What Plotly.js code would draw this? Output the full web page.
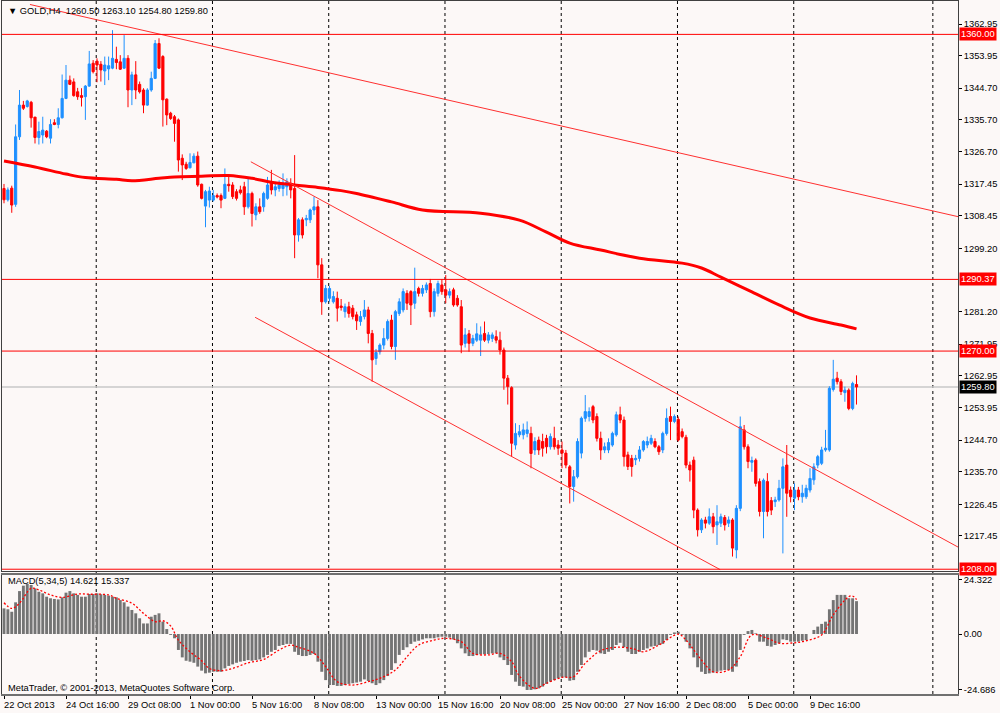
<!DOCTYPE html>
<html><head><meta charset="utf-8">
<script src="https://cdn.plot.ly/plotly-3.0.1.min.js"></script>
<style>html,body{margin:0;padding:0;background:#fcf8f7;}#chart{width:1000px;height:713px;}</style>
</head><body><div id="chart"></div>
<script>
// ---- price data (GOLD, H4), bar 0 = 22 Oct 2013 00:00 ----
const openP = [1316.2,1313.0,1316.3,1311.7,1330.9,1339.9,1339.5,1340.7,1336.5,1330.7,1331.4,1332.5,1330.5,1334.9,1334.4,1336.3,1341.8,1347.0,1346.5,1343.7,
1342.6,1342.3,1345.3,1351.8,1352.4,1351.5,1349.6,1350.2,1350.4,1352.9,1352.2,1350.4,1353.2,1344.2,1348.5,1345.8,1344.2,1339.9,1344.2,1347.5,
1357.4,1353.7,1341.6,1337.6,1336.6,1335.7,1324.8,1323.1,1322.1,1323.5,1325.4,1317.4,1311.2,1312.9,1312.9,1314.2,1314.2,1313.4,1317.4,1317.2,
1315.3,1315.8,1316.7,1311.0,1314.8,1308.7,1311.0,1311.0,1313.4,1318.1,1315.8,1316.2,1316.2,1316.7,1317.7,1316.2,1303.0,1307.3,1307.3,1307.3,
1310.1,1311.0,1294.5,1284.0,1285.0,1284.0,1285.0,1282.8,1281.2,1282.6,1282.2,1280.3,1278.4,1279.8,1281.7,1275.0,1267.9,1269.8,1271.7,1273.6,
1278.8,1271.3,1280.7,1281.7,1286.4,1286.9,1283.6,1287.8,1286.4,1287.4,1289.2,1281.2,1286.4,1288.8,1287.4,1285.9,1287.4,1285.0,1282.6,1272.2,
1274.9,1272.2,1273.1,1273.1,1275.0,1273.1,1273.6,1274.1,1273.1,1270.3,1262.3,1259.6,1243.3,1246.2,1246.2,1246.6,1246.6,1241.9,1244.7,1244.3,
1245.2,1242.8,1245.2,1243.3,1241.9,1241.0,1237.1,1231.5,1234.3,1241.0,1250.9,1251.4,1254.2,1251.4,1245.2,1241.9,1241.9,1243.3,1246.2,1251.9,
1250.4,1240.5,1239.5,1239.1,1239.5,1241.9,1243.3,1243.8,1244.3,1242.8,1241.9,1246.6,1251.4,1250.0,1250.6,1247.1,1245.5,1237.6,1239.0,1224.8,
1219.2,1222.0,1221.1,1222.9,1220.6,1221.1,1222.7,1221.1,1222.0,1213.5,1225.3,1247.6,1242.8,1238.4,1239.0,1232.9,1224.4,1232.9,1227.5,1227.2,
1227.7,1231.0,1237.6,1230.5,1228.2,1230.5,1228.6,1228.6,1230.5,1233.4,1237.6,1238.1,1241.9,1241.9,1259.1,1262.3,1261.3,1258.2,1258.9,1253.7,1260.5];
const highP = [1317.5,1316.5,1317.0,1334.4,1344.2,1341.1,1341.4,1341.1,1336.5,1335.2,1336.6,1332.8,1335.9,1335.9,1339.0,1348.6,1351.3,1348.3,1347.5,1344.8,
1344.7,1345.6,1355.3,1352.7,1353.2,1352.4,1353.7,1353.7,1361.2,1356.5,1354.1,1359.8,1354.1,1349.4,1352.4,1346.6,1344.7,1344.7,1349.4,1358.4,
1358.9,1354.1,1341.8,1338.0,1337.1,1336.1,1325.9,1323.8,1326.2,1326.2,1326.7,1317.6,1315.8,1316.7,1315.8,1314.8,1314.8,1321.9,1320.0,1318.0,
1316.0,1317.0,1318.1,1319.1,1315.3,1312.0,1313.4,1315.3,1319.5,1321.5,1318.1,1318.5,1320.5,1319.1,1319.1,1325.7,1307.8,1308.0,1308.7,1310.5,
1313.9,1312.9,1296.4,1288.8,1288.5,1287.0,1286.9,1284.8,1283.5,1284.0,1283.1,1281.2,1281.4,1284.5,1282.6,1276.0,1270.6,1272.2,1276.5,1279.0,
1280.3,1281.7,1285.0,1287.8,1287.3,1287.3,1293.7,1288.3,1288.8,1289.5,1290.5,1287.8,1290.0,1290.4,1291.6,1287.8,1288.0,1285.9,1284.5,1276.5,
1276.0,1274.6,1277.9,1277.0,1278.4,1275.4,1275.3,1275.9,1275.5,1271.0,1263.2,1260.0,1249.5,1249.0,1249.4,1250.0,1248.5,1245.5,1245.7,1246.5,
1246.2,1246.6,1248.5,1244.7,1244.3,1241.9,1237.6,1236.2,1245.2,1251.4,1257.5,1254.0,1254.7,1252.3,1247.1,1244.0,1245.2,1247.1,1252.8,1254.2,
1251.4,1241.4,1240.5,1240.5,1243.0,1244.7,1245.7,1246.2,1245.2,1243.3,1247.1,1253.7,1254.2,1252.0,1251.4,1248.0,1246.2,1238.6,1240.0,1225.3,
1222.5,1222.9,1225.3,1224.0,1226.2,1223.8,1223.4,1223.0,1222.5,1226.2,1251.4,1249.0,1243.5,1240.0,1239.5,1233.8,1233.8,1235.3,1228.5,1228.6,
1233.4,1239.5,1243.3,1231.5,1232.4,1231.4,1232.0,1232.0,1236.7,1238.1,1240.5,1242.8,1247.6,1260.0,1267.5,1264.1,1262.0,1259.9,1259.4,1261.3,1263.1];
const lowP = [1312.0,1312.5,1309.3,1311.0,1330.0,1338.5,1339.2,1333.5,1329.0,1328.7,1329.0,1330.5,1329.0,1334.2,1333.3,1336.1,1341.6,1345.6,1342.3,1341.4,
1339.5,1335.7,1345.1,1348.9,1346.4,1346.6,1345.6,1347.0,1350.1,1350.1,1349.9,1350.2,1339.3,1339.9,1341.6,1343.2,1337.6,1339.7,1343.7,1347.3,
1350.2,1333.8,1334.2,1335.7,1329.5,1321.0,1318.6,1321.5,1321.9,1323.4,1316.7,1313.1,1305.2,1310.8,1312.5,1313.4,1310.6,1313.2,1315.3,1313.2,
1312.8,1314.5,1308.7,1310.5,1305.4,1307.2,1309.0,1309.6,1313.0,1314.5,1314.0,1315.3,1314.0,1314.2,1313.4,1296.4,1301.1,1302.0,1305.5,1306.4,
1308.7,1290.7,1280.3,1283.5,1284.0,1283.5,1278.4,1281.5,1279.5,1279.5,1279.0,1276.0,1277.2,1279.0,1272.2,1261.3,1266.1,1269.0,1270.5,1273.0,
1270.5,1267.5,1280.0,1281.0,1281.7,1277.4,1282.0,1285.5,1285.5,1286.5,1279.6,1279.8,1285.5,1286.0,1283.6,1285.0,1282.6,1282.6,1269.4,1271.0,
1269.8,1271.4,1272.6,1268.6,1272.6,1272.2,1272.6,1272.2,1269.0,1259.0,1254.8,1240.0,1242.0,1245.5,1244.9,1245.5,1236.7,1240.5,1240.5,1240.0,
1240.9,1242.0,1242.0,1240.5,1236.7,1236.7,1226.7,1227.2,1233.8,1239.5,1249.9,1250.0,1249.5,1244.3,1239.1,1241.0,1241.0,1242.8,1245.7,1249.5,
1237.2,1236.2,1234.3,1237.6,1238.6,1241.4,1242.4,1243.3,1242.4,1240.5,1241.0,1246.0,1244.7,1249.5,1244.3,1245.2,1236.7,1232.9,1222.5,1217.3,
1218.3,1219.6,1220.6,1218.2,1214.9,1220.0,1219.0,1220.0,1211.6,1211.1,1224.5,1242.0,1236.7,1235.7,1231.5,1223.0,1216.8,1223.0,1223.4,1225.7,
1227.2,1212.5,1222.9,1227.0,1224.8,1227.6,1226.9,1228.0,1229.8,1232.0,1236.7,1237.6,1241.4,1241.4,1258.5,1260.5,1257.5,1255.6,1253.2,1253.2,1254.8];
const closeP = [1313.0,1315.8,1311.5,1330.9,1339.9,1339.0,1341.1,1336.3,1330.7,1332.4,1332.8,1330.9,1334.4,1334.4,1336.3,1341.8,1347.0,1345.8,1342.6,1342.3,
1342.1,1345.3,1351.6,1349.4,1351.3,1349.9,1351.3,1351.1,1353.2,1352.0,1350.1,1353.2,1344.2,1348.5,1344.2,1343.7,1339.9,1344.2,1347.5,1357.4,
1350.4,1341.4,1337.1,1336.1,1334.7,1324.3,1322.9,1321.9,1323.6,1325.4,1317.2,1313.4,1315.3,1315.5,1314.2,1313.8,1312.9,1317.4,1317.0,1313.9,
1313.4,1315.0,1311.0,1314.8,1309.1,1311.0,1309.6,1314.8,1317.2,1315.8,1316.7,1317.2,1317.7,1318.1,1315.8,1303.0,1307.3,1303.0,1307.7,1310.1,
1311.0,1294.5,1284.0,1287.8,1287.8,1285.5,1282.2,1282.4,1282.6,1280.7,1279.8,1278.6,1279.8,1281.7,1275.0,1267.5,1269.6,1271.7,1273.6,1278.4,
1271.3,1281.2,1284.0,1286.9,1283.6,1283.1,1286.9,1286.4,1287.8,1288.8,1281.2,1286.9,1289.2,1286.9,1285.9,1286.9,1283.1,1283.1,1271.7,1274.6,
1272.2,1273.6,1274.9,1274.6,1273.1,1274.6,1274.6,1273.1,1270.3,1262.3,1259.9,1243.8,1246.6,1247.1,1247.6,1247.6,1240.9,1244.3,1241.9,1242.4,
1242.8,1245.7,1242.8,1242.4,1241.0,1237.6,1231.5,1234.3,1244.3,1250.9,1252.8,1252.8,1250.4,1245.2,1241.9,1242.8,1244.0,1246.6,1251.9,1250.4,
1240.0,1237.2,1237.2,1239.5,1241.9,1244.3,1244.3,1245.2,1242.8,1241.4,1246.6,1250.9,1250.0,1251.4,1244.7,1245.7,1237.6,1236.2,1224.8,1219.2,
1222.0,1221.1,1222.9,1220.1,1221.5,1222.9,1220.6,1222.0,1214.0,1225.3,1248.5,1242.8,1238.6,1238.9,1232.4,1224.4,1233.3,1224.4,1224.8,1227.7,
1231.0,1237.1,1229.6,1228.6,1230.5,1228.6,1229.6,1231.0,1233.8,1237.1,1240.0,1241.9,1242.4,1259.4,1262.0,1261.3,1258.5,1258.9,1253.7,1260.8,1259.8];

// moving average (thick red line), sampled bars and values
const maBars = [0,8,16,21,29,33,40,44,51,58,64,69,75,81,87,91,100,108,123,133,140,146,154,164,175,180,185,193,200,208,216,220];
const maVals = [1324.0,1322.3,1320.3,1319.3,1318.8,1318.4,1319.1,1319.5,1319.7,1319.9,1319.1,1318.0,1317.2,1316.5,1315.6,1314.8,1312.4,1310.1,1309.2,1307.2,1303.8,1300.7,1298.7,1296.4,1295.0,1293.6,1291.0,1286.8,1283.1,1279.4,1277.4,1276.3];

// MACD(5,34,5) histogram, one value per bar
const macdHist = [11.4,11.0,9.9,14.1,19.1,21.5,22.3,21.8,20.3,18.8,18.1,16.6,15.9,15.6,15.4,16.3,18.4,19.1,18.1,17.4,
16.6,16.6,17.8,17.8,18.1,17.7,17.4,17.1,16.6,16.3,15.1,14.1,12.2,10.7,9.2,7.0,4.7,4.7,7.7,8.5,
9.2,5.5,2.2,-0.4,-1.9,-7.1,-10.4,-11.9,-12.3,-12.8,-14.5,-16.3,-17.5,-17.2,-16.8,-16.8,-16.8,-15.3,-14.2,-13.5,
-12.8,-12.3,-12.0,-11.6,-11.9,-11.6,-11.3,-10.4,-9.3,-7.9,-7.1,-5.3,-4.9,-4.4,-4.4,-7.9,-9.3,-9.8,-9.8,-9.3,
-8.9,-12.3,-16.8,-20.5,-22.7,-22.7,-23.1,-23.1,-22.7,-22.2,-21.9,-21.6,-21.2,-20.2,-20.9,-21.9,-22.7,-21.9,-20.5,-18.7,
-16.0,-13.0,-9.3,-7.1,-5.9,-4.4,-3.4,-3.0,-2.4,-1.9,-1.9,-1.9,-1.5,-1.2,-1.2,-1.6,-2.4,-4.1,-6.4,-8.6,
-9.8,-9.8,-9.3,-9.0,-9.0,-8.9,-8.6,-8.6,-10.4,-11.6,-13.8,-18.2,-21.2,-23.1,-23.4,-24.9,-24.9,-24.6,-24.2,-23.4,
-22.2,-21.2,-20.5,-19.7,-19.3,-19.3,-20.8,-20.5,-16.8,-13.8,-10.4,-7.9,-7.1,-7.4,-8.6,-8.9,-7.9,-7.1,-4.9,-3.9,
-5.9,-7.9,-8.9,-8.9,-7.9,-7.1,-6.4,-5.6,-5.3,-4.9,-4.4,-2.7,-0.4,0.7,1.0,-0.4,-3.4,-6.4,-10.4,-14.8,
-16.8,-17.8,-17.5,-17.2,-16.8,-16.3,-16.0,-16.0,-16.8,-14.5,-7.1,-0.4,1.3,1.8,0.3,-3.4,-3.4,-5.3,-5.6,-4.9,
-4.1,-2.4,-2.7,-3.4,-3.4,-3.4,-3.0,-2.7,0.0,1.8,3.3,4.5,5.5,11.0,15.1,17.4,17.4,17.4,15.9,15.9,14.621];
// MACD signal line (red dotted), sampled bars and values
const sigBars = [0,2,4,7,9,12,15,19,22,27,29,33,36,39,41,43,45,48,51,53,56,59,63,67,71,74,76,80,83,86,90,94,97,101,104,107,111,114,118,121,125,128,131,133,137,140,144,147,150,154,158,162,165,169,174,176,180,183,187,190,193,197,200,204,207,211,214,218,219,220];
const sigVals = [13.9,11.4,13.7,20.3,19.6,17.4,16.3,17.8,17.7,17.4,15.9,13.7,9.2,5.5,5.9,3.6,-2.7,-7.9,-11.9,-15.3,-16.3,-15.3,-12.8,-11.3,-7.1,-4.9,-5.9,-8.6,-14.5,-21.2,-22.7,-21.2,-19.7,-16.0,-10.1,-4.9,-2.7,-1.9,-3.4,-8.6,-9.3,-8.6,-12.3,-18.7,-24.2,-21.9,-19.3,-19.0,-13.0,-7.4,-5.9,-6.4,-7.9,-4.9,-0.1,-2.7,-11.6,-16.8,-16.0,-10.1,-0.4,-1.9,-4.1,-3.9,-3.0,-0.4,8.5,16.6,16.9,15.337];

// horizontal levels, current bid, trend lines
const levels = [1360.00, 1290.37, 1270.00, 1208.00];
const bidPrice = 1259.80;
const trendABars = [6.7, 246.2],  trendAPrices = [1368.5, 1308.2];
const trendBBars = [63.7, 246.2], trendBPrices = [1323.8, 1214.3];
const trendCBars = [64.8, 184.8], trendCPrices = [1279.6, 1207.9];

// axes
const yTicks = [1362.95,1353.95,1344.70,1335.70,1326.70,1317.45,1308.45,1299.20,1281.20,1271.95,1262.95,1253.95,1244.70,1235.70,1226.45,1217.45];
const macdTicks = [24.322, 0, -24.686];
const macdTickText = ['24.322','0.00','-24.686'];
const xTickBars = [0,16,32,48,64,80,96,112,128,144,160,176,192,208];
const xTickLabels = ['22 Oct 2013','24 Oct 16:00','29 Oct 08:00','1 Nov 00:00','5 Nov 16:00','8 Nov 08:00','13 Nov 00:00','15 Nov 16:00','20 Nov 08:00','25 Nov 00:00','27 Nov 16:00','2 Dec 08:00','5 Dec 00:00','9 Dec 16:00'];
const gridBars = [23.8,53.8,83.8,113.8,143.8,173.8,203.8,239.7];

const FONT = '"Liberation Sans", Arial, sans-serif';
const BG = '#fcf8f7';
const barIdx = openP.map((_, i) => i);
const last = openP.length - 1;

const traces = [
  {type:'candlestick', x:barIdx, open:openP, high:highP, low:lowP, close:closeP, xaxis:'x', yaxis:'y',
   increasing:{line:{color:'#1e90ff', width:1}, fillcolor:'#1e90ff'},
   decreasing:{line:{color:'#ff0000', width:1}, fillcolor:'#ff0000'},
   whiskerwidth:0, hoverinfo:'skip'},
  {type:'scatter', mode:'lines', x:maBars, y:maVals, xaxis:'x', yaxis:'y', line:{color:'#ff0000', width:3, shape:'spline'}, hoverinfo:'skip'},
  {type:'scatter', mode:'lines', x:trendABars, y:trendAPrices, xaxis:'x', yaxis:'y', line:{color:'#ff3030', width:1}, hoverinfo:'skip'},
  {type:'scatter', mode:'lines', x:trendBBars, y:trendBPrices, xaxis:'x', yaxis:'y', line:{color:'#ff3030', width:1}, hoverinfo:'skip'},
  {type:'scatter', mode:'lines', x:trendCBars, y:trendCPrices, xaxis:'x', yaxis:'y', line:{color:'#ff3030', width:1}, hoverinfo:'skip'},
  {type:'bar', x:barIdx, y:macdHist, xaxis:'x2', yaxis:'y2', marker:{color:'#747474', line:{width:0}}, hoverinfo:'skip'},
  {type:'scatter', mode:'lines', x:sigBars, y:sigVals, xaxis:'x2', yaxis:'y2', line:{color:'#ff0000', width:1.3, dash:'2px,2px', shape:'spline'}, hoverinfo:'skip'}
];

const shapes = [];
gridBars.forEach(g => shapes.push({type:'line', xref:'x', yref:'paper', x0:g, x1:g, y0:0, y1:1, layer:'below', line:{color:'#000', width:1, dash:'3px,3px'}}));
levels.forEach(l => shapes.push({type:'line', xref:'x domain', yref:'y', x0:0, x1:1, y0:l, y1:l, line:{color:'#ff0000', width:1}}));
shapes.push({type:'line', xref:'x domain', yref:'y', x0:0, x1:1, y0:bidPrice, y1:bidPrice, layer:'below', line:{color:'#c8c8c8', width:1.5}});

const annotations = [];
annotations.push({xref:'paper', yref:'paper', x:0.004, y:0.986, xanchor:'left', yanchor:'middle', showarrow:false,
  text:'▼ GOLD,H4  ' + [openP[last],highP[last],lowP[last],closeP[last]].map(v=>v.toFixed(2)).join(' '), font:{family:FONT, size:9.3, color:'#000'}});
annotations.push({xref:'paper', yref:'paper', x:0.004, y:0.163, xanchor:'left', yanchor:'middle', showarrow:false,
  text:'MACD(5,34,5) ' + macdHist[last].toFixed(3) + ' ' + sigVals[sigVals.length-1].toFixed(3), font:{family:FONT, size:9.3, color:'#000'}});
annotations.push({xref:'paper', yref:'paper', x:0.004, y:0.009, xanchor:'left', yanchor:'middle', showarrow:false,
  text:'MetaTrader, © 2001-2013, MetaQuotes Software Corp.', font:{family:FONT, size:9.3, color:'#000'}});
levels.forEach(l => annotations.push({xref:'paper', yref:'y', x:1, y:l, xanchor:'left', yanchor:'middle', xshift:1, showarrow:false,
  text:l.toFixed(2), bgcolor:'#ff0000', borderpad:1, font:{family:FONT, size:9.3, color:'#fff'}}));
annotations.push({xref:'paper', yref:'y', x:1, y:bidPrice, xanchor:'left', yanchor:'middle', xshift:1, showarrow:false,
  text:bidPrice.toFixed(2), bgcolor:'#000', borderpad:1, font:{family:FONT, size:9.3, color:'#fff'}});
// time-axis labels, left-aligned at their ticks (MetaTrader style)
xTickBars.forEach((b, k) => annotations.push({xref:'x2', yref:'paper', x:b, y:-0.0165, xanchor:'left', yanchor:'middle', xshift:-2, showarrow:false,
  text:xTickLabels[k], font:{family:FONT, size:9.3, color:'#000'}}));

const axLine = {showline:true, mirror:true, linecolor:'#404040', linewidth:1, zeroline:false, showgrid:false, fixedrange:true};
const layout = {
  width:1000, height:713, margin:{l:2, r:42, t:1, b:19},
  paper_bgcolor:BG, plot_bgcolor:BG, showlegend:false,
  font:{family:FONT, size:9.3, color:'#000'},
  boxgap:0.2, bargap:0.25,
  xaxis:Object.assign({}, axLine, {domain:[0,1], range:[-0.516,246.19], anchor:'y', showticklabels:false, ticks:'', rangeslider:{visible:false}}),
  yaxis:Object.assign({}, axLine, {domain:[0.1775,1], range:[1207.5,1369.49], anchor:'x', side:'right', tickvals:yTicks, ticktext:yTicks.map(v=>v.toFixed(2)), ticks:'outside', ticklen:3, tickcolor:'#000'}),
  xaxis2:Object.assign({}, axLine, {domain:[0,1], range:[-0.516,246.19], anchor:'y2', tickvals:xTickBars, showticklabels:false, ticks:'outside', ticklen:3, tickcolor:'#000', linewidth:2, linecolor:'#707070'}),
  yaxis2:Object.assign({}, axLine, {domain:[0,0.1717], range:[-26.69,26.25], anchor:'x2', side:'right', tickvals:macdTicks, ticktext:macdTickText, ticks:'outside', ticklen:3, tickcolor:'#000'}),
  shapes:shapes, annotations:annotations
};
Plotly.newPlot('chart', traces, layout, {staticPlot:true, displayModeBar:false});
</script></body></html>
